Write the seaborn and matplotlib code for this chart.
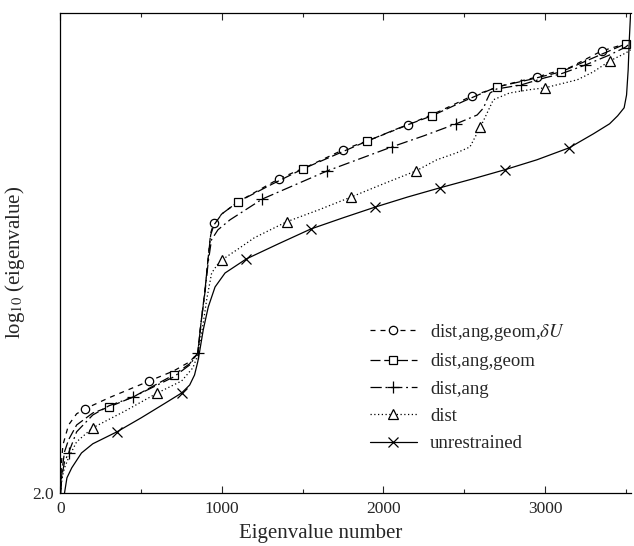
import matplotlib
matplotlib.use("Agg")
import matplotlib.pyplot as plt
import seaborn as sns
import pandas as pd
from matplotlib.ticker import FixedLocator

# ---------------- data ----------------
circ_x = [0, 5, 15, 50, 100, 150, 300, 550, 700, 800, 850, 870, 895, 915, 930, 950, 1000, 1100,
          1350, 1550, 1750, 1950, 2150, 2350, 2550, 2750, 2950, 3150, 3350, 3500, 3530]
circ_y = [2.0, 2.7, 3.2, 3.7, 3.98, 4.1, 4.38, 4.8, 5.05, 5.28, 5.5, 6.25, 7.08, 7.9, 8.5, 8.75, 8.98, 9.28,
          9.85, 10.2, 10.58, 10.88, 11.2, 11.55, 11.93, 12.2, 12.4, 12.63, 13.05, 13.23, 13.3]
circ_marks = [150, 550, 950, 1350, 1750, 2150, 2550, 2950, 3350]

sq_x = [0, 10, 25, 50, 100, 200, 300, 450, 700, 800, 850, 870, 895, 915, 930, 950, 1000, 1100,
        1300, 1500, 1700, 1900, 2100, 2300, 2500, 2700, 2900, 3100, 3300, 3500, 3530]
sq_y = [2.0, 2.58, 3.03, 3.33, 3.7, 4.0, 4.15, 4.4, 4.95, 5.23, 5.5, 6.25, 7.08, 7.9, 8.45, 8.7, 8.98, 9.28,
        9.7, 10.1, 10.45, 10.8, 11.13, 11.43, 11.8, 12.15, 12.33, 12.53, 12.88, 13.23, 13.3]
sq_marks = [300, 700, 1100, 1500, 1900, 2300, 2700, 3100, 3500]

plus_x = [0, 10, 25, 50, 100, 200, 300, 450, 700, 800, 850, 870, 895, 915, 935, 975, 1050, 1250,
          1450, 1650, 1850, 2050, 2250, 2450, 2580, 2620, 2640, 2660, 2700, 2850, 3000, 3100,
          3250, 3400, 3500, 3530]
plus_y = [2.0, 2.45, 2.78, 3.0, 3.53, 3.95, 4.18, 4.4, 4.9, 5.2, 5.5, 6.25, 7.03, 7.78, 8.33, 8.58, 8.83, 9.35,
          9.7, 10.05, 10.35, 10.65, 10.93, 11.23, 11.45, 11.63, 11.83, 12.0, 12.1, 12.2, 12.38, 12.48,
          12.7, 12.95, 13.15, 13.25]
plus_marks = [50, 450, 850, 1250, 1650, 2050, 2450, 2850, 3250]

tri_x = [0, 10, 25, 50, 100, 200, 400, 600, 750, 820, 850, 884, 905, 936, 970, 1000, 1100, 1200,
         1400, 1600, 1800, 2000, 2200, 2330, 2450, 2535, 2600, 2630, 2680, 2780, 2900, 3000, 3100,
         3200, 3300, 3400, 3500, 3530]
tri_y = [2.0, 2.38, 2.63, 2.88, 3.28, 3.63, 4.05, 4.5, 4.8, 5.13, 5.45, 6.25, 6.83, 7.5, 7.7, 7.83, 8.1, 8.38,
         8.78, 9.08, 9.4, 9.73, 10.05, 10.33, 10.5, 10.65, 11.15, 11.4, 11.83, 12.0, 12.08, 12.13, 12.23,
         12.33, 12.53, 12.8, 13.0, 13.08]
tri_marks = [200, 600, 1000, 1400, 1800, 2200, 2600, 3000, 3400]

unr_x = [25, 40, 70, 130, 200, 350, 500, 650, 750, 800, 830, 850, 860, 884, 915, 957, 1019, 1150,
         1350, 1550, 1750, 1950, 2150, 2350, 2550, 2750, 2950, 3150, 3300, 3400, 3450, 3490, 3505,
         3515, 3522, 3530]
unr_y = [2.0, 2.38, 2.63, 3.0, 3.23, 3.53, 3.88, 4.25, 4.5, 4.7, 4.95, 5.28, 5.5, 6.08, 6.65, 7.15, 7.5, 7.85,
         8.23, 8.6, 8.88, 9.15, 9.4, 9.63, 9.85, 10.08, 10.33, 10.63, 10.98, 11.23, 11.43, 11.63, 11.95,
         12.58, 13.33, 14.0]
unr_marks = [350, 750, 1150, 1550, 1950, 2350, 2750, 3150]

labels = [r"dist,ang,geom,$\delta U$", "dist,ang,geom", "dist,ang", "dist", "unrestrained"]
x_ticks = [0, 1000, 2000, 3000]
x_minor = [500, 1500, 2500, 3500]
y_ticks = [2.0]
y_ticklabels = ["2.0"]

# ---------------- style ----------------
sns.set_style("ticks")
plt.rcParams['font.family'] = ['Liberation Serif', 'DejaVu Serif']
plt.rcParams['mathtext.fontset'] = 'stix'

fig = plt.figure(figsize=(6.34, 5.46), dpi=100)
ax = fig.add_axes([0.0954, 0.0971, 0.9005, 0.8791])

series = [
    (circ_x, circ_y, circ_marks, 'o', (0, (4, 4)), 6.0),
    (sq_x, sq_y, sq_marks, 's', (0, (8, 3)), 5.5),
    (plus_x, plus_y, plus_marks, '+', (0, (9, 3, 1.5, 3)), 8.0),
    (tri_x, tri_y, tri_marks, '^', (0, (1, 2)), 7.0),
    (unr_x, unr_y, unr_marks, 'x', '-', 7.0),
]

for (xs, ys, marks, mk, ls, ms), lab in zip(series, labels):
    df = pd.DataFrame({'x': xs, 'y': ys})
    idx = [i for i, v in enumerate(xs) if v in marks]
    sns.lineplot(data=df, x='x', y='y', ax=ax, color='black', linewidth=0.9,
                 linestyle=ls, marker=mk, markevery=idx, markersize=ms,
                 markerfacecolor='white', markeredgecolor='black', markeredgewidth=0.9,
                 label=lab, errorbar=None, estimator=None, sort=False)

ax.set_xlim(0, 3535)
ax.set_ylim(2.0, 14.0)
ax.set_xticks(x_ticks)
ax.set_xticklabels([str(t) for t in x_ticks])
ax.xaxis.set_minor_locator(FixedLocator(x_minor))
ax.tick_params(axis='x', which='both', direction='in', top=True, bottom=True,
               labelsize=12.5, pad=6, width=0.8)
ax.tick_params(axis='x', which='major', length=5)
ax.tick_params(axis='x', which='minor', length=3)
ax.set_yticks(y_ticks)
ax.set_yticklabels(y_ticklabels)
ax.tick_params(axis='y', length=0, labelsize=12.5, pad=5)

ax.spines['right'].set_visible(False)
for s in ['left', 'bottom', 'top']:
    ax.spines[s].set_linewidth(0.9)
    ax.spines[s].set_color('black')

ax.set_xlabel("Eigenvalue number", fontsize=15)
ax.set_ylabel(r"log$_{10}$ (eigenvalue)", fontsize=15)
ax.xaxis.set_label_coords(0.455, -0.065)
ax.yaxis.set_label_coords(-0.058, 0.48)

leg = ax.legend(loc='upper left', bbox_to_anchor=(0.542, 0.357), frameon=False,
                fontsize=13.5, handlelength=2.5, handletextpad=0.7, labelspacing=0.55,
                borderaxespad=0, borderpad=0, numpoints=1)

fig.savefig("out.png", dpi=100)
